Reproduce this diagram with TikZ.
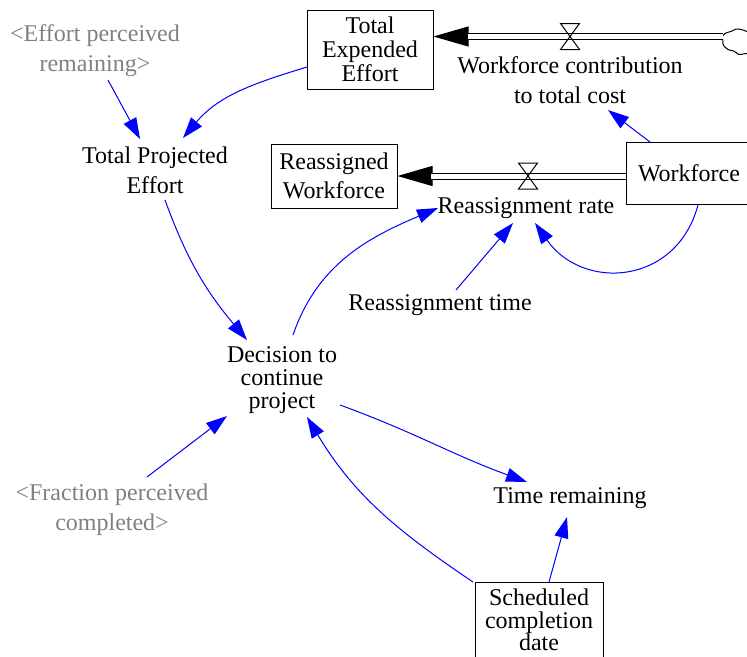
\documentclass[tikz,border=0pt]{standalone}
\usepackage{fontspec}
\setmainfont{Liberation Serif}
\usetikzlibrary{arrows.meta}
\definecolor{lnkblue}{RGB}{0,0,255}
\definecolor{shadowgray}{RGB}{128,128,128}
\begin{document}
\begin{tikzpicture}[x=1pt,y=-1pt,
  txt/.style={inner sep=0pt, align=center, font=\fontsize{24}{24}\selectfont},
  txtwide/.style={inner sep=0pt, align=center, font=\fontsize{24}{30}\selectfont},
  shadowvar/.style={txtwide, text=shadowgray},
  stock/.style={draw, line width=1pt, inner sep=0pt, align=center},
  link/.style={draw=lnkblue, line width=1pt, -{Triangle[length=21pt,width=14pt]}},
  flowtip/.style={draw=black, line width=1pt, -{Triangle[length=35pt,width=20pt]}},
  pipe/.style={draw=black, line width=1pt, double=white, double distance=5pt},
  valve/.style={draw=black, line width=1pt, line join=miter}]
\useasboundingbox (0,0) rectangle (747,656);

% stocks
\node[stock, minimum width=126pt, minimum height=79pt, font=\fontsize{24}{24}\selectfont] (tfe) at (370,49.5) {Total\\Expended\\Effort};
\node[stock, minimum width=126pt, minimum height=64pt, font=\fontsize{24}{29}\selectfont] (rw) at (334,176) {Reassigned\\Workforce};
\node[stock, minimum width=126pt, minimum height=62pt, font=\fontsize{24}{24}\selectfont] (wf) at (689,173) {Workforce};
\node[stock, minimum width=128pt, minimum height=76pt, font=\fontsize{24}{22.5}\selectfont] (scd) at (539,620) {Scheduled\\completion\\date};

% variables
\node[shadowvar] (epr) at (95,51) {<Effort perceived\\remaining>};
\node[txtwide] (tpe) at (155,170) {Total Projected\\Effort};
\node[txtwide] (wc) at (570,80) {Workforce contribution\\to total cost};
\node[txt] (rr) at (526,208) {Reassignment rate};
\node[txt] (rt) at (440,305) {Reassignment time};
\node[txt, font=\fontsize{24}{23}\selectfont] (dec) at (282,380) {Decision to\\continue\\project};
\node[shadowvar] (fpc) at (112,510) {<Fraction perceived\\completed>};
\node[txt] (tr) at (570,498) {Time remaining};

% cloud and valves
\coordinate (cloud) at (723,36.5);
\coordinate (v1) at (570,36.5);
\coordinate (v2) at (528,176);
\draw[line width=1pt] ([shift={(0,-1)}]cloud) .. controls +(3,-4) and +(-3,2) .. ([shift={(10,-6)}]cloud)
  .. controls +(3,-3) and +(-5,-2) .. ([shift={(24,-5)}]cloud);
\draw[line width=1pt] ([shift={(0,3)}]cloud) .. controls +(-1,6) and +(-4,-3) .. ([shift={(5,13)}]cloud)
  .. controls +(3,3) and +(-5,-4) .. ([shift={(13,16)}]cloud)
  .. controls +(4,4) and +(-6,0) .. ([shift={(24,17)}]cloud);

% flows
\draw[flowtip] (cloud) -- ([shift={(0,-13)}]tfe.east);
\draw[pipe, shorten >=34pt] (cloud) -- ([shift={(0,-13)}]tfe.east);
\draw[valve] ([shift={(-9.5,-13)}]v1) -- ([shift={(9.5,-13)}]v1) -- ([shift={(-9.5,13)}]v1) -- ([shift={(9.5,13)}]v1) -- cycle;

\draw[flowtip] ([shift={(0,3)}]wf.west) -- ([shift={(0,0)}]rw.east);
\draw[pipe, shorten >=33pt] ([shift={(0,3)}]wf.west) -- ([shift={(0,0)}]rw.east);
\draw[valve] ([shift={(-9.5,-13)}]v2) -- ([shift={(9.5,-13)}]v2) -- ([shift={(-9.5,13)}]v2) -- ([shift={(9.5,13)}]v2) -- cycle;

% links
\draw[link] ([shift={(-63,17.5)}]tfe.center) to[out=-163,in=50] ([shift={(28,-32)}]tpe.center);
\draw[link] ([shift={(13,29)}]epr.center) -- ([shift={(-15,-31)}]tpe.center);
\draw[link] ([shift={(10,30)}]tpe.center) to[out=-70,in=130] ([shift={(-35,-40)}]dec.center);
\draw[link] ([shift={(11,-45)}]dec.center) to[out=71,in=-157] ([shift={(-88,0)}]rr.center);
\draw[link] ([shift={(16,-15)}]rt.center) -- ([shift={(-13,15)}]rr.center);
\draw[link] ([shift={(9,32)}]wf.center) to[out=-105,in=-55,looseness=1.3] ([shift={(9,15)}]rr.center);
\draw[link] ([shift={(-39,-31)}]wf.center) -- ([shift={(38,30)}]wc.center);
\draw[link] ([shift={(35,-33)}]fpc.center) -- ([shift={(-55,36)}]dec.center);
\draw[link] ([shift={(58,25)}]dec.center) to[out=-20,in=160] ([shift={(-43,-16)}]tr.center);
\draw[link] ([shift={(-66,-38)}]scd.center) to[out=146,in=-59] ([shift={(25,37)}]dec.center);
\draw[link] ([shift={(10,-38)}]scd.center) -- ([shift={(-3,19)}]tr.center);
\end{tikzpicture}
\end{document}
